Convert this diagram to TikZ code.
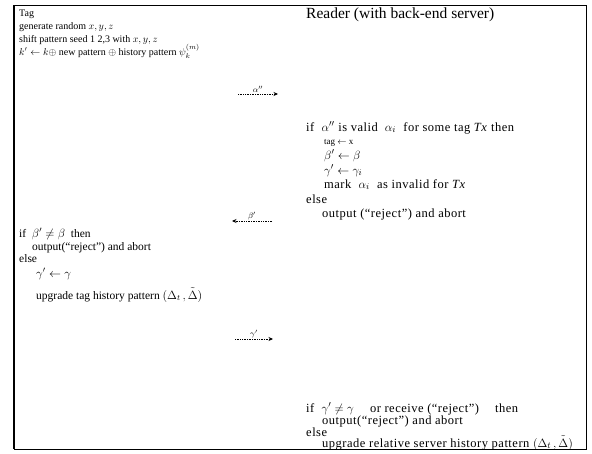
\documentclass[tikz,border=0pt]{standalone}
\usepackage{fontspec}
\setmainfont{Liberation Serif}
\usetikzlibrary{arrows.meta}
\begin{document}
\begin{tikzpicture}[x=1pt,y=-1pt,
  txtA/.style={anchor=base west, inner sep=0pt, font=\fontsize{10}{12}\selectfont},
  txtB/.style={anchor=base west, inner sep=0pt, font=\fontsize{11.5}{13}\selectfont},
  txt/.style={anchor=base west, inner sep=0pt, font=\fontsize{12.5}{14}\selectfont\addfontfeatures{LetterSpace=4}},
  small/.style={anchor=base west, inner sep=0pt, font=\fontsize{9}{10}\selectfont},
  head/.style={anchor=base west, inner sep=0pt, font=\fontsize{15.5}{17}\selectfont},
  msg/.style={densely dotted, line width=0.7pt, -{Stealth[length=4.5pt,width=4pt]}},
  lbl/.style={font=\fontsize{8}{9}\selectfont, inner sep=1pt, above}]
\useasboundingbox (0,0) rectangle (592,453);
\draw[line width=1pt] (14,5) rectangle (586,449);
\draw[line width=1.8pt] (14,5) -- (14,449);
% Tag side
\node[txtA] (t1) at (19,16) {Tag};
\node[txtA] (t2) at (19,29) {generate random $x,y,z$};
\node[txtA] (t3) at (19,42) {shift pattern seed 1 2,3 with $x,y,z$};
\node[txtA] (t4) at (19,55) {$k'\leftarrow k\oplus$ new pattern $\oplus$ history pattern $\psi_k^{(m)}$};
% Reader side
\node[head] (r1) at (306,18) {Reader (with back-end server)};
\node[txt] (r2) at (306,131) {if \ $\alpha''$ is valid \ $\alpha_i$ \ for some tag \textit{Tx} then};
\node[small] (r3) at (324,144) {tag $\leftarrow$ x};
\node[txt] (r4) at (324,159) {$\beta'\leftarrow\beta$};
\node[txt] (r5) at (324,174) {$\gamma'\leftarrow\gamma_i$};
\node[txt] (r6) at (324,188) {mark \ $\alpha_i$ \ as invalid for \textit{Tx}};
\node[txt] (r7) at (306,203) {else};
\node[txt] (r8) at (322,217) {output (``reject'') and abort};
% Tag check
\node[txtB] (t5) at (19,237) {if \ $\beta'\neq\beta$ \ then};
\node[txtB] (t6) at (32,250) {output(``reject'') and abort};
\node[txtB] (t7) at (19,262) {else};
\node[txtB] (t8) at (36,277) {$\gamma'\leftarrow\gamma$};
\node[txtB] (t9) at (36,299) {upgrade tag history pattern $(\Delta_t\,,\tilde{\Delta})$};
% Reader final
\node[txt] (r9) at (306,412) {if \ $\gamma'\neq\gamma$ \quad or receive (``reject'') \quad then};
\node[txt] (r10) at (322,424) {output(``reject'') and abort};
\node[txt] (r11) at (306,436) {else};
\node[txt] (r12) at (322,447) {upgrade relative server history pattern $(\Delta_t\,,\tilde{\Delta})$};
% messages
\coordinate (a1s) at (238,94); \coordinate (a1e) at (278,94);
\coordinate (a2s) at (272,221); \coordinate (a2e) at (232,221);
\coordinate (a3s) at (235,339); \coordinate (a3e) at (273,339);
\draw[msg] (a1s) -- node[lbl]{$\alpha''$} (a1e);
\draw[msg] (a2s) -- node[lbl]{$\beta'$} (a2e);
\draw[msg] (a3s) -- node[lbl]{$\gamma'$} (a3e);
\end{tikzpicture}
\end{document}
